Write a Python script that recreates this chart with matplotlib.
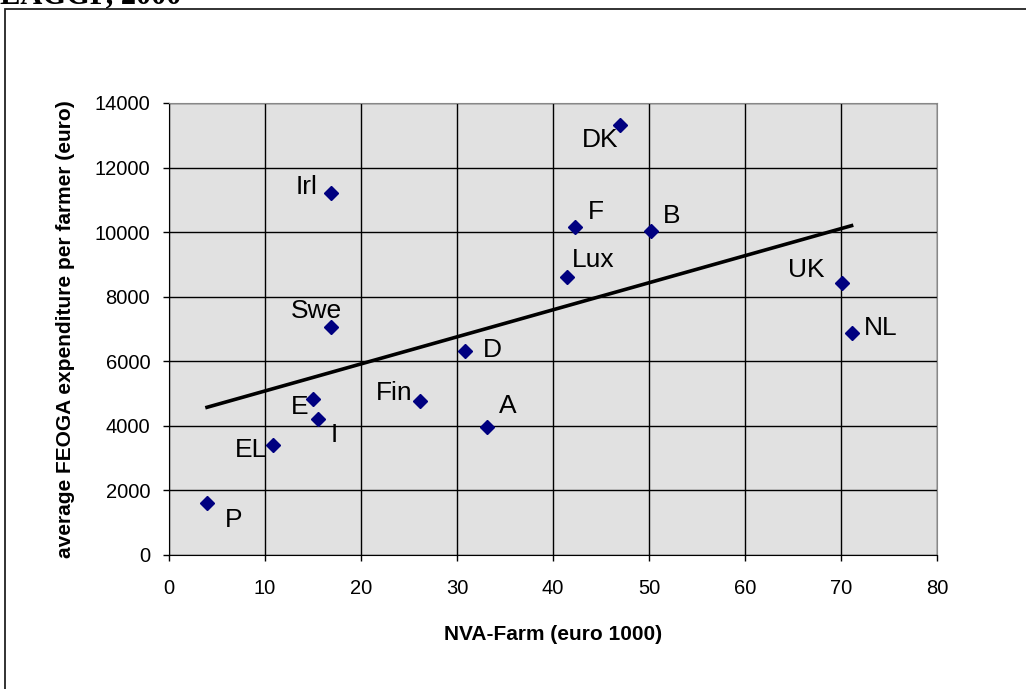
import numpy as np
import matplotlib.pyplot as plt
from matplotlib.patches import Rectangle

# member states: NVA per farm (euro 1000) vs. average FEOGA expenditure per farmer (euro)
countries = ["P", "EL", "E", "I", "Swe", "Irl", "Fin", "D", "A", "Lux", "F", "DK", "B", "UK", "NL"]
nva_farm = [3.96, 10.8, 15.0, 15.5, 16.9, 16.9, 26.1, 30.8, 33.1, 41.5, 42.3, 47.0, 50.2, 70.1, 71.1]
feoga = [1610, 3410, 4830, 4210, 7060, 11210, 4770, 6320, 3960, 8610, 10160, 13320, 10030, 8420, 6890]

# label offsets in pixels (text centre relative to marker)
label_off = {"P": (27, -17), "EL": (-22, -5), "E": (-13, -8), "I": (16, -16),
             "Swe": (-15, 16), "Irl": (-25, 6), "Fin": (-25, 8), "D": (28, 1),
             "A": (21, 21), "Lux": (26, 17), "F": (21, 15), "DK": (-20, -15),
             "B": (21, 15), "UK": (-36, 13), "NL": (29, 5)}

plt.rcParams['font.family'] = ['Liberation Sans', 'DejaVu Sans']

fig = plt.figure(figsize=(10.26, 6.89), dpi=100)
ax = fig.add_axes([169 / 1026, 1 - 555 / 689, (937 - 169) / 1026, (555 - 103) / 689])

# outer frame and cut-off heading
fig.patches.append(Rectangle((5 / 1026, -0.1), 1.2, 0.1 + (689 - 9) / 689,
                             transform=fig.transFigure, fill=False,
                             edgecolor="#222222", lw=1.3))
fig.text(0.0, 1 - 3 / 689, "EAGGF, 2000", family="Liberation Serif", weight="bold",
         fontsize=22, va="baseline", ha="left")

ax.set_facecolor("#e1e1e1")
ax.set_xlim(0, 80)
ax.set_ylim(0, 14000)
ax.set_xticks(range(0, 81, 10))
ax.set_yticks(range(0, 14001, 2000))
ax.grid(True, color="black", lw=1.0)
ax.set_axisbelow(True)
for s in ["top", "right"]:
    ax.spines[s].set_color("#888888")
for s in ["left", "bottom"]:
    ax.spines[s].set_color("black")
ax.tick_params(axis="both", labelsize=14.5, length=4.5, direction="out", width=1)
ax.tick_params(axis="x", pad=13)
ax.tick_params(axis="y", pad=9)

# linear trend line
coef = np.polyfit(nva_farm, feoga, 1)
xs = np.array([min(nva_farm), max(nva_farm)])
ax.plot(xs, np.polyval(coef, xs), color="black", lw=2.6, zorder=3)

ax.plot(nva_farm, feoga, linestyle="none", marker="D", markersize=7,
        color="#000080", zorder=4)

for name, x, y in zip(countries, nva_farm, feoga):
    ax.annotate(name, (x, y), xytext=label_off[name], textcoords="offset pixels",
                ha="center", va="center", fontsize=19, zorder=5)

ax.set_xlabel("NVA-Farm (euro 1000)", fontsize=15, weight="bold", labelpad=19)
ax.set_ylabel("average FEOGA expenditure per farmer (euro)", fontsize=15, weight="bold",
              labelpad=14)

fig.savefig("out.png", dpi=100)
